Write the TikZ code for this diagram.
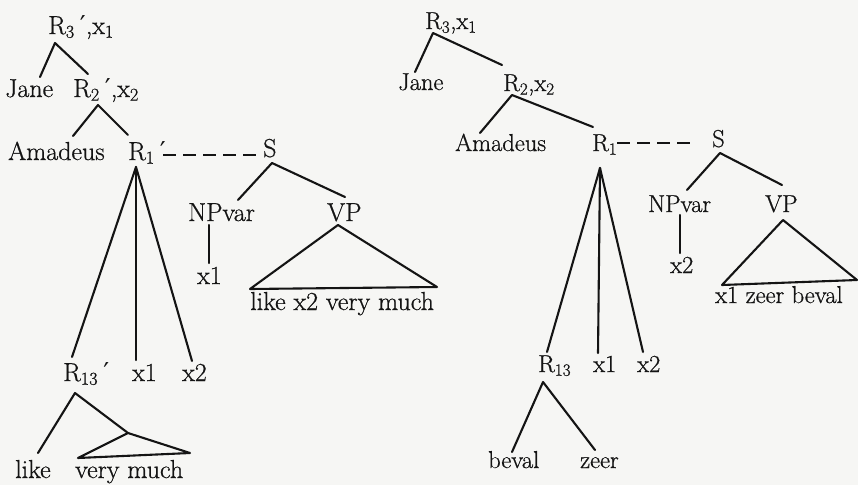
\documentclass[tikz,border=0pt]{standalone}
\usepackage{fontspec}
\setmainfont{Latin Modern Roman}[FakeBold=0.7]
\newfontfamily\djv{DejaVu Serif}
\definecolor{paper}{RGB}{246,246,244}
\definecolor{ink}{RGB}{20,20,20}
\newcommand\pr{{\djv ′}}
\newcommand\sbs[1]{\textsubscript{#1}}
\begin{document}
\begin{tikzpicture}[x=1pt,y=-1pt,
  lab/.style={anchor=base west, inner sep=0pt, text=ink},
  lf/.style={lab, font=\fontsize{26}{30}\selectfont},
  rf/.style={lab, font=\fontsize{24.5}{28}\selectfont},
  edge/.style={draw=ink, line width=2.1pt, line cap=round, line join=round},
  dash link/.style={draw=ink, line width=2.1pt, dash pattern=on 13pt off 7pt}]
\fill[paper] (0,0) rectangle (858,485);
\useasboundingbox (0,0) rectangle (858,485);
% ---------- left tree ----------
\node[lf] (Lr3)  at (48,34)  {R\sbs{3}\hspace{.2em}\pr,x\sbs{1}};
\node[lf] (Ljane) at (5,97)  {Jane};
\node[lf] (Lr2)  at (73,97)  {R\sbs{2}\hspace{.2em}\pr,x\sbs{2}};
\node[lf] (Lama) at (8,160)  {Amadeus};
\node[lf] (Lr1)  at (128,160) {R\sbs{1}\hspace{.2em}\pr};
\node[lf] (Ls)   at (263,157) {S};
\node[lf] (Lnp)  at (188,221) {NPvar};
\node[lf] (Lvp)  at (327,221) {VP};
\node[lf] (Lxa)  at (197,284) {x1};
\node[lf] (Ltri) at (250,310) {like x2 very much};
\node[lf] (Lr13) at (63,381) {R\sbs{13}\hspace{.2em}\pr};
\node[lf] (Lxb)  at (132,381) {x1};
\node[lf] (Lxc)  at (182,381) {x2};
\node[lf] (Llike) at (15,478) {like};
\node[lf] (Lvm)  at (75,478) {very much};
\draw[edge] ([shift={(35,-20)}]Ljane.base west) -- ([shift={(7,9)}]Lr3.base west) -- ([shift={(15,-23)}]Lr2.base west);
\draw[edge] ([shift={(65,-24)}]Lama.base west) -- ([shift={(25,8)}]Lr2.base west) -- ([shift={(0,-25)}]Lr1.base west);
\draw[dash link] ([shift={(35,-5)}]Lr1.base west) -- ([shift={(-5,-2)}]Ls.base west);
\draw[edge] ([shift={(50,-21)}]Lnp.base west) -- ([shift={(9,6)}]Ls.base west) -- ([shift={(18,-24)}]Lvp.base west);
\draw[edge] ([shift={(21,4)}]Lnp.base west) -- ([shift={(12,-21)}]Lxa.base west);
\draw[edge] ([shift={(0,-21)}]Ltri.base west) -- ([shift={(11,4)}]Lvp.base west) -- ([shift={(187,-23)}]Ltri.base west) -- cycle;
\draw[edge] ([shift={(9,-24)}]Lr13.base west) -- ([shift={(8,7)}]Lr1.base west) -- ([shift={(10,-20)}]Lxc.base west);
\draw[edge] ([shift={(8,7)}]Lr1.base west) -- ([shift={(4,-21)}]Lxb.base west);
\draw[edge] ([shift={(23,-25)}]Llike.base west) -- ([shift={(12,12)}]Lr13.base west) -- ([shift={(53,-45)}]Lvm.base west);
\draw[edge] ([shift={(53,-45)}]Lvm.base west) -- ([shift={(3,-20)}]Lvm.base west) -- ([shift={(115,-25)}]Lvm.base west) -- cycle;
% ---------- right tree ----------
\node[rf] (Rr3)  at (425,29) {R\sbs{3},x\sbs{1}};
\node[rf] (Rjane) at (398,90) {Jane};
\node[rf] (Rr2)  at (503,91) {R\sbs{2},x\sbs{2}};
\node[rf] (Rama) at (455,151) {Amadeus};
\node[rf] (Rr1)  at (592,151) {R\sbs{1}};
\node[rf] (Rs)   at (712,147) {S};
\node[rf] (Rnp)  at (648,212) {NPvar};
\node[rf] (Rvp)  at (765,212) {VP};
\node[rf] (Rxa)  at (670,273) {x2};
\node[rf] (Rtri) at (715,303) {x1 zeer beval};
\node[rf] (Rr13) at (538,372) {R\sbs{13}};
\node[rf] (Rxb)  at (593,372) {x1};
\node[rf] (Rxc)  at (637,372) {x2};
\node[rf] (Rbeval) at (488,468) {beval};
\node[rf] (Rzeer) at (580,468) {zeer};
\draw[edge] ([shift={(17,-18)}]Rjane.base west) -- ([shift={(8,4)}]Rr3.base west) -- ([shift={(-1,-26)}]Rr2.base west);
\draw[edge] ([shift={(25,-18)}]Rama.base west) -- ([shift={(9,4)}]Rr2.base west) -- ([shift={(1,-24)}]Rr1.base west);
\draw[dash link] ([shift={(25,-8)}]Rr1.base west) -- ([shift={(-15,-4)}]Rs.base west);
\draw[edge] ([shift={(39,-22)}]Rnp.base west) -- ([shift={(8,6)}]Rs.base west) -- ([shift={(17,-27)}]Rvp.base west);
\draw[edge] ([shift={(32,3)}]Rnp.base west) -- ([shift={(10,-20)}]Rxa.base west);
\draw[edge] ([shift={(7,-18)}]Rtri.base west) -- ([shift={(18,8)}]Rvp.base west) -- ([shift={(142,-23)}]Rtri.base west) -- cycle;
\draw[edge] ([shift={(9,-20)}]Rr13.base west) -- ([shift={(8,17)}]Rr1.base west) -- ([shift={(6,-20)}]Rxc.base west);
\draw[edge] ([shift={(8,17)}]Rr1.base west) -- ([shift={(5,-19)}]Rxb.base west);
\draw[edge] ([shift={(24,-16)}]Rbeval.base west) -- ([shift={(5,10)}]Rr13.base west) -- ([shift={(15,-18)}]Rzeer.base west);
\end{tikzpicture}
\end{document}
